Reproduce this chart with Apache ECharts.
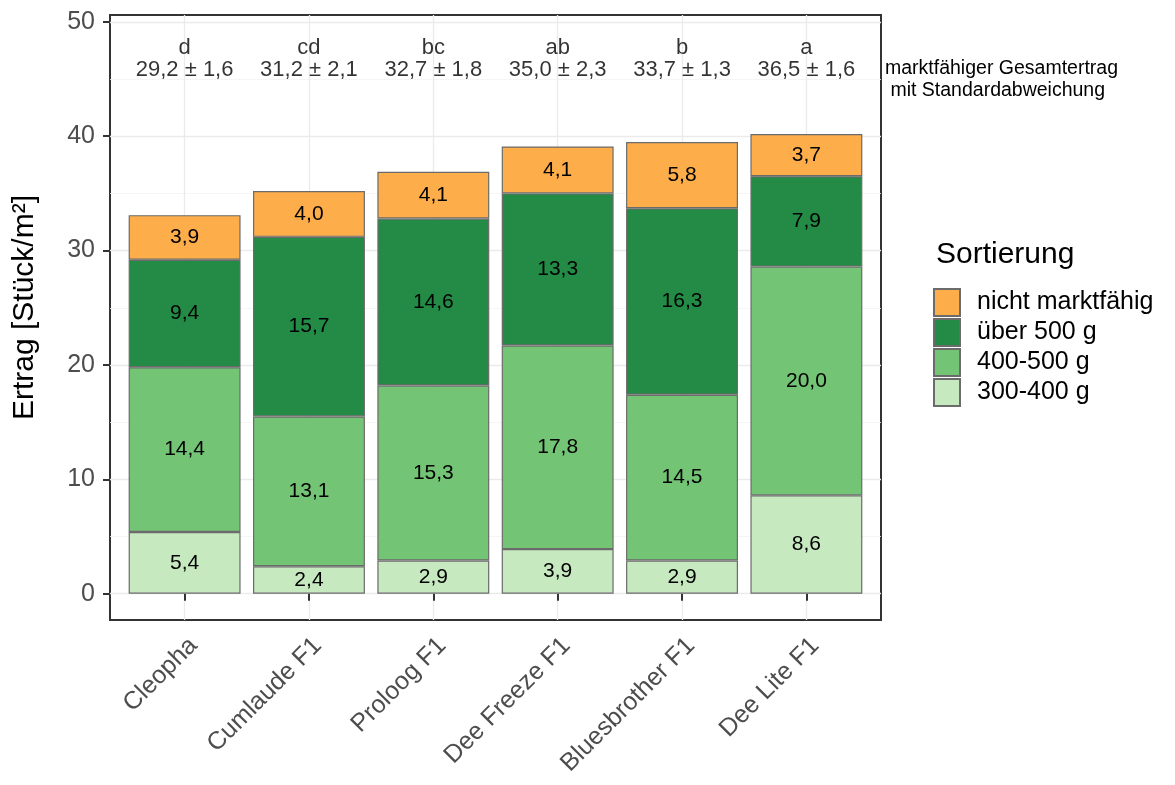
<!DOCTYPE html>
<html><head><meta charset="utf-8">
<script src="https://cdn.jsdelivr.net/npm/echarts@6/dist/echarts.min.js"></script>
<style>html,body{margin:0;padding:0;background:#fff}#c{width:1175px;height:785px}</style>
</head><body><div id="c"></div>
<script>
const categories = ['Cleopha', 'Cumlaude F1', 'Proloog F1', 'Dee Freeze F1', 'Bluesbrother F1', 'Dee Lite F1'];
const s300_400 = [5.4, 2.4, 2.9, 3.9, 2.9, 8.6];
const s400_500 = [14.4, 13.1, 15.3, 17.8, 14.5, 20.0];
const sUeber500 = [9.4, 15.7, 14.6, 13.3, 16.3, 7.9];
const sNicht = [3.9, 4.0, 4.1, 4.1, 5.8, 3.7];
const letters = ['d', 'cd', 'bc', 'ab', 'b', 'a'];
const totals = [29.2, 31.2, 32.7, 35.0, 33.7, 36.5];
const sds = [1.6, 2.1, 1.8, 2.3, 1.3, 1.6];
const yTicks = [0, 10, 20, 30, 40, 50];
const yMinor = [5, 15, 25, 35, 45];
const annotY = 46.8;
const seriesNames = ['300-400 g', '400-500 g', 'über 500 g', 'nicht marktfähig'];
const seriesColors = ['#C7E9C0', '#74C476', '#238B45', '#FDAE4B'];
const legendOrder = ['nicht marktfähig', 'über 500 g', '400-500 g', '300-400 g'];

const FONT = "'Liberation Sans', Arial, sans-serif";
const fmt = v => v.toFixed(1).replace('.', ',');
const xPos = categories.map((c, i) => i + 1);
const seriesData = [s300_400, s400_500, sUeber500, sNicht];

// panel geometry: x range 0.4..6.6 (ggplot discrete expansion 0.6)
const P = { left: 110, right: 294, top: 15, bottom: 165 };
const unit = (1175 - P.left - P.right) / 6.2;
const inset = 0.1 * unit;

const barSeries = seriesData.map((arr, k) => ({
  name: seriesNames[k],
  type: 'bar',
  stack: 'total',
  xAxisIndex: 1, yAxisIndex: 2,
  barWidth: '90%',
  data: arr,
  itemStyle: { color: seriesColors[k], borderColor: '#6b6b6b', borderWidth: 1.2 },
  label: {
    show: true, position: 'inside', color: '#000', fontFamily: FONT, fontSize: 21,
    formatter: p => fmt(p.value)
  },
  emphasis: { disabled: true },
  z: 3
}));

const annotSeries = {
  name: 'annot',
  type: 'scatter',
  xAxisIndex: 0, yAxisIndex: 0,
  symbolSize: 1,
  itemStyle: { color: 'rgba(0,0,0,0)' },
  data: xPos.map((x, i) => [x, annotY]),
  label: {
    show: true, position: 'inside', color: '#000', fontFamily: FONT, fontSize: 22,
    lineHeight: 22, align: 'center',
    formatter: p => letters[p.dataIndex] + '\n' + fmt(totals[p.dataIndex]) + ' ± ' + fmt(sds[p.dataIndex])
  },
  silent: true,
  z: 4
};

const chart = echarts.init(document.getElementById('c'), null, { renderer: 'canvas' });
chart.setOption({
  animation: false,
  backgroundColor: '#fff',
  textStyle: { fontFamily: FONT },
  grid: [
    { left: P.left, right: P.right, top: P.top, bottom: P.bottom, show: true, borderColor: '#333', borderWidth: 2, backgroundColor: 'transparent' },
    { left: P.left + inset, right: P.right + inset, top: P.top, bottom: P.bottom }
  ],
  title: {
    text: 'Sortierung', left: 931, top: 235,
    textStyle: { fontFamily: FONT, fontSize: 30, fontWeight: 'normal', color: '#000' }
  },
  legend: {
    data: legendOrder, orient: 'vertical', left: 933, top: 288, padding: 0,
    itemWidth: 26, itemHeight: 27, itemGap: 1, icon: 'rect',
    textStyle: { fontFamily: FONT, fontSize: 25, color: '#000', padding: [0, 0, 0, 12] },
    selectedMode: false
  },
  graphic: [{
    type: 'text', left: 885, top: 58,
    style: { text: 'marktfähiger Gesamtertrag\n mit Standardabweichung', font: '19.5px ' + FONT, fill: '#000', lineHeight: 22 }
  }],
  xAxis: [{
    gridIndex: 0,
    type: 'value', min: 0.4, max: 6.6,
    axisLine: { show: false },
    axisTick: { show: true, customValues: xPos, length: 7, lineStyle: { color: '#333', width: 2 } },
    axisLabel: {
      customValues: xPos, rotate: 45, margin: 13, verticalAlign: 'top', fontFamily: FONT, fontSize: 25, color: '#4D4D4D',
      formatter: v => categories[Math.round(v) - 1] || ''
    },
    splitLine: { show: true, lineStyle: { color: '#EBEBEB', width: 1.3 } }
  }, {
    gridIndex: 1,
    type: 'category', data: categories, show: false
  }],
  yAxis: [{
    gridIndex: 0,
    type: 'value', min: -2.3, max: 50.6,
    name: 'Ertrag [Stück/m²]', nameLocation: 'middle', nameGap: 70,
    nameTextStyle: { fontFamily: FONT, fontSize: 30, color: '#000', padding: [0, 0, 0, 20] },
    axisLine: { show: false },
    axisTick: { show: true, customValues: yTicks, length: 7, lineStyle: { color: '#333', width: 2 } },
    axisLabel: { customValues: yTicks, margin: 15, fontFamily: FONT, fontSize: 25, color: '#4D4D4D' },
    splitLine: { show: true, lineStyle: { color: '#EBEBEB', width: 1.3 } }
  }, {
    gridIndex: 0,
    type: 'value', min: -2.3, max: 50.6, position: 'left',
    axisLine: { show: false },
    axisTick: { show: false, customValues: yMinor },
    axisLabel: { show: false, customValues: yMinor },
    splitLine: { show: true, lineStyle: { color: '#F2F2F2', width: 0.8 } }
  }, {
    gridIndex: 1,
    type: 'value', min: -2.3, max: 50.6, show: false, splitLine: { show: false }
  }],
  series: [...barSeries, annotSeries]
});
</script></body></html>
